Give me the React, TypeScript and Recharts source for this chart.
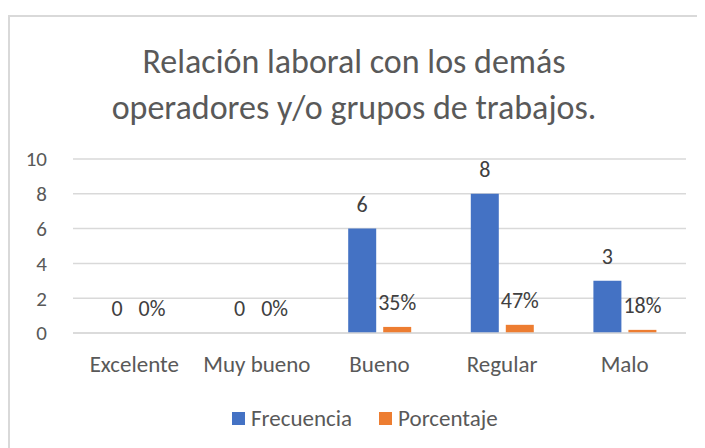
import React from 'react';
import { BarChart, Bar, XAxis, YAxis, CartesianGrid, LabelList } from 'recharts';

// Chart data
const categories = ['Excelente', 'Muy bueno', 'Bueno', 'Regular', 'Malo'];
const frecuencia = [0, 0, 6, 8, 3];
const porcentaje = [0, 0, 0.35, 0.47, 0.18];
const yTicks = [0, 2, 4, 6, 8, 10];
const seriesNames = ['Frecuencia', 'Porcentaje'];
const seriesColors = ['#4472C4', '#ED7D31'];
const titleLines = ['Relación laboral con los demás', 'operadores y/o grupos de trabajos.'];

const FONT = 'Carlito, Calibri, Lato, sans-serif';
const TEXT = '#595959';

const chartData = categories.map((name, i) => ({
  name,
  Frecuencia: frecuencia[i],
  Porcentaje: porcentaje[i],
}));

const App: React.FC = () => {
  return (
    <div style={{ position: 'relative', width: 697, height: 440, fontFamily: FONT }}>
      {/* chart frame, only top and left edges fall inside the window */}
      <div
        style={{
          position: 'absolute',
          left: 0,
          top: 7,
          width: 697,
          height: 433,
          borderLeft: '2px solid #d9d9d9',
          borderTop: '2px solid #d9d9d9',
          boxSizing: 'border-box',
        }}
      />
      <svg width={697} height={125} style={{ position: 'absolute', left: 0, top: 0 }}>
        {titleLines.map((line, i) => (
          <text
            key={i}
            x={346}
            y={65 + i * 46}
            textAnchor="middle"
            fontSize={34}
            fill={TEXT}
            fontFamily={FONT}
          >
            {line}
          </text>
        ))}
      </svg>
      <div style={{ position: 'absolute', left: 0, top: 0 }}>
        <BarChart
          width={697}
          height={440}
          data={chartData}
          margin={{ top: 151, right: 19, left: 15, bottom: 75 }}
          barSize={28}
          barGap={7}
        >
          <CartesianGrid vertical={false} stroke="#d9d9d9" strokeWidth={1.5} />
          <XAxis
            dataKey="name"
            axisLine={{ stroke: '#d9d9d9', strokeWidth: 1.5 }}
            tickLine={false}
            tickMargin={17}
            height={40}
            tick={{ fill: TEXT, fontSize: 23, fontFamily: FONT }}
          />
          <YAxis
            width={50}
            domain={[0, 10]}
            ticks={yTicks}
            axisLine={false}
            tickLine={false}
            tickMargin={20}
            tick={{ fill: TEXT, fontSize: 21, fontFamily: FONT }}
          />
          {/* tiny minPointSize keeps the zero bars (and their labels) in the layout */}
          <Bar dataKey="Frecuencia" fill={seriesColors[0]} minPointSize={0.01} isAnimationActive={false}>
            <LabelList
              dataKey="Frecuencia"
              position="top"
              offset={17}
              fill="#404040"
              fontSize={22}
              fontFamily={FONT}
            />
          </Bar>
          <Bar dataKey="Porcentaje" fill={seriesColors[1]} minPointSize={0.01} isAnimationActive={false}>
            <LabelList
              dataKey="Porcentaje"
              position="top"
              offset={17}
              fill="#404040"
              fontSize={22}
              fontFamily={FONT}
              formatter={(v: any) => `${Math.round(Number(v) * 100)}%`}
            />
          </Bar>
        </BarChart>
      </div>
      <div
        style={{
          position: 'absolute',
          left: 224,
          top: 396,
          display: 'flex',
          alignItems: 'center',
          gap: 27,
          fontSize: 23,
          color: TEXT,
        }}
      >
        {seriesNames.map((name, i) => (
          <div key={name} style={{ display: 'flex', alignItems: 'center' }}>
            <span
              style={{
                display: 'inline-block',
                width: 13,
                height: 13,
                background: seriesColors[i],
                marginRight: 6,
              }}
            />
            <span>{name}</span>
          </div>
        ))}
      </div>
    </div>
  );
};

export default App;
